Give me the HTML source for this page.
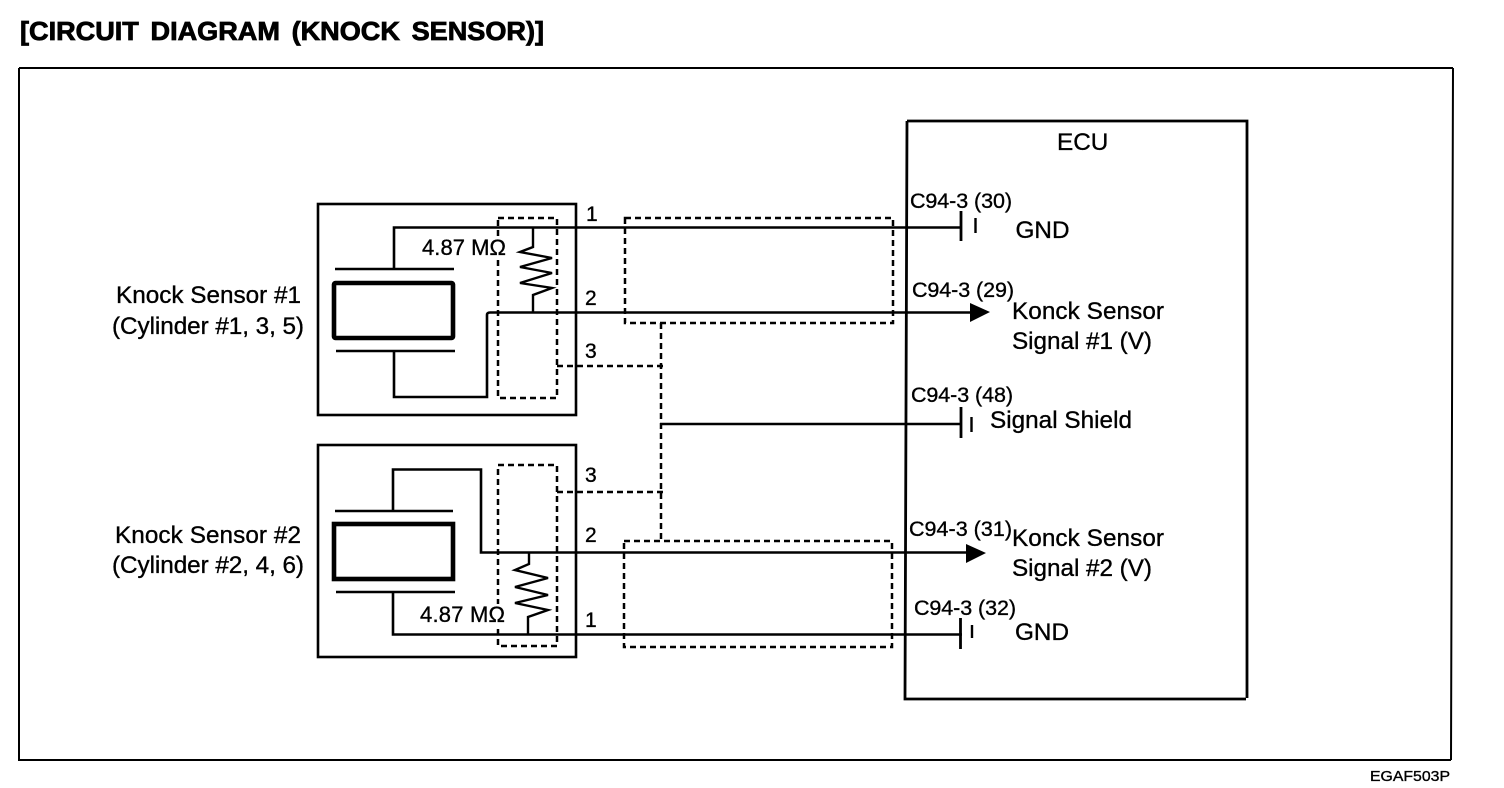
<!DOCTYPE html>
<html>
<head>
<meta charset="utf-8">
<style>
html,body{margin:0;padding:0;background:#fff;}
svg{display:block;}
text{font-family:"Liberation Sans",sans-serif;fill:#000;stroke:#000;stroke-width:.35px;}
</style>
</head>
<body>
<svg width="1504" height="788" viewBox="0 0 1504 788" xmlns="http://www.w3.org/2000/svg">
<rect width="1504" height="788" fill="#fff"/>
<text x="20" y="40" font-size="26" font-weight="bold" word-spacing="4" textLength="524" lengthAdjust="spacingAndGlyphs" style="stroke-width:.8px">[CIRCUIT DIAGRAM (KNOCK SENSOR)]</text>

<g fill="none" stroke="#000">
<path d="M19 68H1453M19 68V760H1451M1453 68L1451 760" stroke-width="2"/>
<path d="M907 121H1247V698M907 121L905 699H1246" stroke-width="2.8"/>

<rect x="318" y="204" width="258" height="211" stroke-width="2.6"/>
<rect x="318" y="445" width="258" height="212" stroke-width="2.6"/>

<rect x="334" y="283" width="119" height="55" rx="1.5" stroke-width="4.6"/>
<rect x="334" y="524" width="119" height="55" stroke-width="4.6"/>
<path d="M335 269H454M336 351H455M335 511H453M336 592H455" stroke-width="2.6"/>

<path d="M394 268V227.500H962" stroke-width="2.6"/>
<path d="M394 351V397H487V315Q487 312.500 490 312.500H972" stroke-width="2.6"/>
<path d="M393 511V469.500H481V552.500H972" stroke-width="2.6"/>
<path d="M393 592V634.500H962" stroke-width="2.6"/>

<path d="M533 228V247L520 252L552 258L520 267L552 273L520 283L552 288L533 295V313" stroke-width="2.4"/>
<path d="M529 553V564L515 570L548 578L515 587L548 595L515 603L548 610L528 617V634" stroke-width="2.4"/>

<path d="M961 211V241M961 407V438M960.500 618V649" stroke-width="2.8"/>
<path d="M975.500 218V233M971.500 417V432M972 625V638" stroke-width="2.4"/>
<path d="M660 424H961" stroke-width="2.4"/>

<g stroke-width="2.5" stroke-dasharray="6 4">
<path d="M498 218H557V398H498V218"/>
<path d="M498 465H557V646H498V465"/>
<rect x="625" y="218" width="268" height="105"/>
<rect x="624" y="541" width="268" height="106"/>
<path d="M557 366H667M557 492H667M661 323V541"/>
</g>
</g>

<polygon points="970,303 990,312 970,322" fill="#000"/>
<polygon points="966,544 986,553 966,563" fill="#000"/>

<rect x="488" y="238" width="18" height="22" fill="#fff"/>
<rect x="488" y="604" width="18" height="22" fill="#fff"/>

<g font-size="24.300">
<text x="1057" y="150">ECU</text>
<text x="1015.500" y="238">GND</text>
<text x="1015" y="640">GND</text>
<text x="1012" y="319" textLength="152">Konck Sensor</text>
<text x="1012" y="349" textLength="140">Signal #1 (V)</text>
<text x="990" y="428" textLength="142">Signal Shield</text>
<text x="1012" y="546" textLength="152">Konck Sensor</text>
<text x="1012" y="576" textLength="140">Signal #2 (V)</text>
<text x="116" y="303" textLength="185">Knock Sensor #1</text>
<text x="112" y="334" textLength="192">(Cylinder #1, 3, 5)</text>
<text x="115" y="543" textLength="186">Knock Sensor #2</text>
<text x="112" y="573" textLength="192">(Cylinder #2, 4, 6)</text>
</g>
<g font-size="21.500">
<text x="910" y="208" textLength="102">C94-3 (30)</text>
<text x="912" y="297" textLength="102">C94-3 (29)</text>
<text x="911" y="402" textLength="102">C94-3 (48)</text>
<text x="909" y="536" textLength="103">C94-3 (31)</text>
<text x="914" y="615" textLength="102">C94-3 (32)</text>
<text x="422" y="255" font-size="22" textLength="84">4.87 MΩ</text>
<text x="420" y="622" font-size="22" textLength="85">4.87 MΩ</text>
<text x="586" y="221" font-size="21">1</text>
<text x="585" y="305" font-size="21">2</text>
<text x="585" y="358" font-size="21">3</text>
<text x="585" y="482" font-size="21">3</text>
<text x="585" y="542" font-size="21">2</text>
<text x="585" y="627" font-size="21">1</text>
</g>
<text x="1370" y="781" font-size="15" textLength="80" lengthAdjust="spacingAndGlyphs">EGAF503P</text>
</svg>
</body>
</html>
